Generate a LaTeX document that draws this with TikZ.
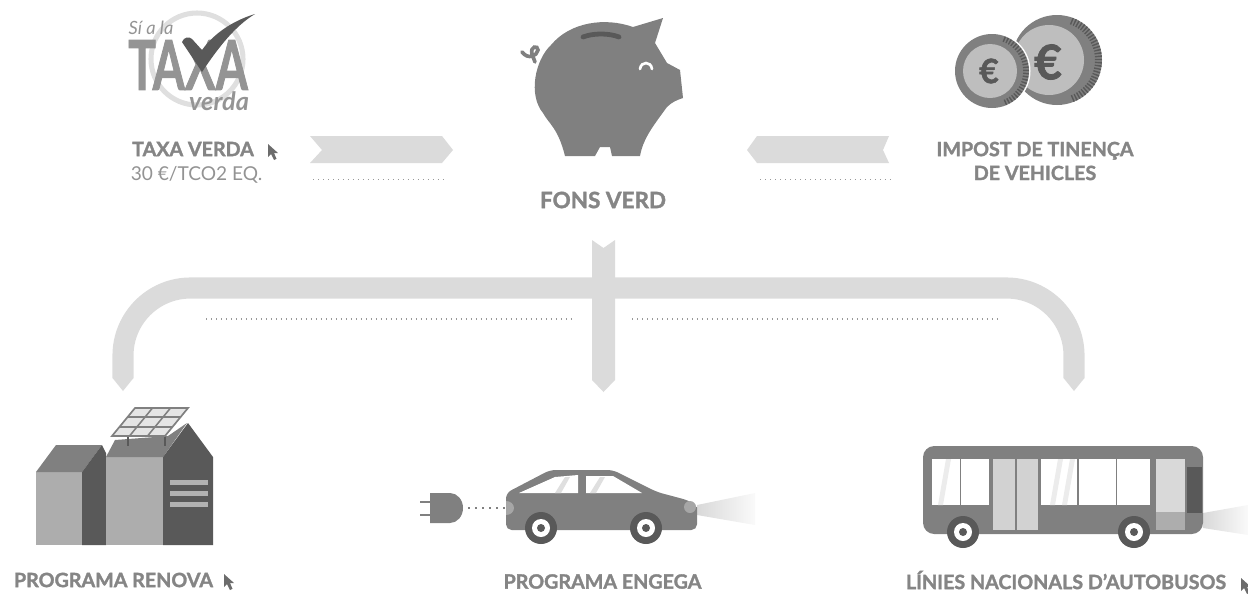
\documentclass[tikz,border=0pt]{standalone}
\usepackage{fontspec}
\setmainfont{Lato}[BoldFeatures={FakeBold=1.6}]
\usetikzlibrary{calc, positioning}
\definecolor{inkgray}{gray}{0.52}
\definecolor{bodygray}{gray}{0.5}
\definecolor{darkgray}{gray}{0.35}
\definecolor{midgray}{gray}{0.68}
\definecolor{bandgray}{gray}{0.86}
\definecolor{logogray}{gray}{0.58}
\tikzset{
	heading/.style={inner sep=0pt, text=inkgray, font=\fontsize{14}{16}\selectfont\bfseries},
	ribbon/.style={fill=bandgray, draw=none},
	dotline/.style={draw=gray!80, line width=.9pt, dash pattern=on 1pt off 2.555pt},
	band/.style={draw=bandgray, line width=15pt, rounded corners=48pt},
	cursor/.style={fill=gray!85!black, draw=none},
	beam/.style={draw=none, left color=gray!30, right color=gray!4},
}

\begin{document}
\begin{tikzpicture}[x=.025cm, y=-.025cm]
		\useasboundingbox (0,0) rectangle (1248,594);
		% logo
		\draw[gray!25, line width=3.6pt] (197,59) circle (46);
		\node[inner sep=0pt, text=logogray, font=\fontsize{13}{13}\selectfont\itshape] (sia) at (151,28) {Sí a la};
		\node[inner sep=0pt, text=logogray, font=\fontsize{49}{49}\selectfont\bfseries] (taxa) at (188,65) {\scalebox{.67}[1]{TAXA}};
		\node[inner sep=0pt, text=logogray, font=\fontsize{18}{18}\selectfont\bfseries\itshape] (verda) at (219,101) {verda};
		\fill[darkgray] (182,42) .. controls (184,37) and (189,36) .. (192,39) -- (202,50) .. controls (215,32) and (235,20) .. (255,14) .. controls (235,26) and (218,48) .. (202,72) -- cycle;
		% piggy bank
		\fill[bodygray] (663,18) -- (633,27) .. controls (605,17) and (570,22) .. (551,45) .. controls (535,60) and (528,95) .. (543,113) .. controls (549,124) and (558,128) .. (565,156) -- (595,156) -- (600,147) -- (610,147) -- (612,156) -- (640,156) .. controls (643,140) and (650,130) .. (667,107) .. controls (672,102) and (677,100) .. (683,98) -- (680,70) -- (667,63) -- (655,43) -- cycle;
		\draw[darkgray, line width=3.4pt, line cap=round] (583,37) .. controls (593,33) and (609,33) .. (619,37);
		\draw[white, line width=1.9pt, line cap=round] (640,69) .. controls (641,61) and (651,61) .. (652,69);
		\draw[bodygray, line width=2.6pt, line cap=round] (522,52) .. controls (528,60) and (537,56) .. (538,50) .. controls (538,45) and (530,46) .. (532,54) -- (535,62);
		% coins
		\fill[bodygray] (1057,60) circle (45);
		\draw[darkgray, line width=5pt, dash pattern=on 1pt off 1.2pt] (1057,60) ++(-70:41.5) arc (-70:70:41.5);
		\fill[midgray!80] (1049,60) circle (35);
		\node[inner sep=0pt, text=darkgray, font=\fontsize{34}{34}\selectfont\bfseries] (euroA) at (1048,62) {€};
		\fill[white] (992,71) circle (38.5);
		\fill[bodygray] (992,71) circle (37);
		\draw[darkgray, line width=4pt, dash pattern=on 1pt off 1.2pt] (992,71) ++(-70:34) arc (-70:70:34);
		\fill[midgray!80] (990,71) circle (27);
		\node[inner sep=0pt, text=darkgray, font=\fontsize{24}{24}\selectfont\bfseries] (euroB) at (989,71) {€};
		% top ribbons
		\path[ribbon] (310,136) -- (442,136) -- (453,150) -- (442,163) -- (310,163) -- (322,150) -- cycle;
		\path[ribbon] (889,136) -- (757,136) -- (747,150) -- (757,163) -- (889,163) -- (883,150) -- cycle;
		% lower ribbons
		\coordinate (armL) at (123,378);
		\coordinate (armR) at (1074,378);
		\coordinate (barL) at (123,288);
		\coordinate (barR) at (1074,288);
		\draw[band] (armL) -- (barL) -- (barR) -- (armR);
		\foreach \x in {112.5, 1063.5}
		{\path[ribbon] (\x,378) -- ++(21,0) -- ++(-10.5,13) -- cycle;}
		\path[ribbon] (592,240) -- (603.5,248) -- (615,240) -- (615,380) -- (603.5,392) -- (592,380) -- cycle;
		% dotted rules
		\foreach \a/\b/\y in {313/443/179.5, 760/890/179.5, 206/574/319, 632/998/319}
		{\draw[dotline] (\a,\y) -- (\b,\y);}
		% houses
		\fill[midgray] (36,472) rectangle (82,545);
		\fill[bodygray] (36,472) -- (56,445) -- (102,445) -- (82,472) -- cycle;
		\fill[darkgray] (82,472) -- (102,445) -- (106,453) -- (106,545) -- (82,545) -- cycle;
		\fill[midgray] (106,457) rectangle (163,545);
		\fill[bodygray] (106,457) -- (115,440) -- (168,436) -- (187,423) -- (163,457) -- cycle;
		\fill[darkgray] (163,457) -- (188,423) -- (213,457) -- (213,545) -- (163,545) -- cycle;
		\foreach \y in {482, 493, 504}
		{\fill[gray!60] (170,\y-2.5) rectangle (208,\y+2.5);}
		% solar panel
		\foreach \x in {128, 165}
		{\draw[darkgray, line width=1.4pt] (\x,436) -- (\x,446);}
		\draw[gray, fill=gray!20, line width=1.2pt] (135,408) -- (188,408) -- (165,436) -- (112,436) -- cycle;
		\foreach \t in {.33, .67}
		{\draw[gray, line width=1.1pt] ($(135,408)!\t!(112,436)$) -- ($(188,408)!\t!(165,436)$);
		 \draw[gray, line width=1.1pt] ($(135,408)!\t!(188,408)$) -- ($(112,436)!\t!(165,436)$);}
		% car
		\path[beam] (697,505) -- (755,493) -- (755,525) -- (697,515) -- cycle;
		\fill[bodygray, rounded corners=4pt] (506,530) -- (506,493) -- (550,470) -- (613,470) -- (657,492) -- (687,500) .. controls (693,503) and (697,508) .. (697,513) -- (697,530) -- cycle;
		\fill[white] (519,493) -- (555,477) -- (578,475) -- (578,493) -- cycle;
		\fill[white] (586,493) -- (586,476) -- (613,476) -- (642,493) -- cycle;
		\fill[gray!25] (555,493) -- (565,477) -- (570,477) -- (561,493) -- cycle;
		\fill[gray!25] (590,493) -- (600,477) -- (605,477) -- (596,493) -- cycle;
		\fill[gray!70] (690,507) circle (6);
		\fill[gray!70] (506,501) arc (-90:90:8 and 7) -- cycle;
		\foreach \x in {541, 646}
		{\fill[darkgray] (\x,528) circle (16);
		 \fill[white] (\x,528) circle (9);
		 \fill[darkgray] (\x,528) circle (4);}
		% plug
		\fill[bodygray] (430,493) -- (450,493) arc (-90:90:13 and 15) -- (430,523) -- cycle;
		\foreach \y in {502, 515}
		{\draw[gray, line width=1.8pt] (420,\y) -- (430,\y);}
		\draw[gray, line width=1.6pt, dash pattern=on 1.6pt off 3.4pt] (468,508) -- (505,508);
		% bus
		\path[beam] (1203,513) -- (1248,505) -- (1248,535) -- (1203,528) -- cycle;
		\fill[bodygray, rounded corners=8pt] (923,446) -- (1203,446) -- (1203,534) -- (923,534) -- cycle;
		\foreach \a/\b in {932/960, 961/989, 1041/1077, 1079/1116, 1117/1150}
		{\fill[white] (\a,459) rectangle (\b,505);}
		\foreach \a/\b in {993/1015, 1017/1038}
		{\fill[gray!35] (\a,459) rectangle (\b,530);}
		\foreach \a in {938, 1050, 1062}
		{\fill[gray!15] (\a,505) -- (\a+8,459) -- (\a+13,459) -- (\a+5,505) -- cycle;}
		\fill[gray!30] (1156,459) rectangle (1185,512);
		\fill[midgray] (1156,512) rectangle (1185,530);
		\fill[darkgray] (1187,467) rectangle (1202,513);
		\foreach \x in {963, 1134}
		{\fill[darkgray] (\x,532) circle (16);
		 \fill[white] (\x,532) circle (9);
		 \fill[darkgray] (\x,532) circle (4);}
		% labels
		\node[heading] (taxav) at (193,149) {TAXA VERDA};
		\node[inner sep=0pt, text=gray!85, font=\fontsize{13.6}{14}\selectfont] (rate) at (196.5,175) {30 €/TCO2 EQ.};
		\node[heading, font=\fontsize{16}{16}\selectfont\bfseries] (fons) at (603,200) {FONS VERD};
		\node[heading, align=center] (impost) at (1035,161) {IMPOST DE TINENÇA\\[1pt]DE VEHICLES};
		\node[heading] (renova) at (113.5,580) {PROGRAMA RENOVA};
		\node[heading] (engega) at (602.5,581.5) {PROGRAMA ENGEGA};
		\node[heading] (linies) at (1066,580) {LÍNIES NACIONALS D’AUTOBUSOS};
		% pointers
		\foreach \x/\y in {268/144, 224/574, 1241/578}
		{\path[cursor] (\x,\y) -- ++(0,13) -- ++(3,-3) -- ++(3,6) -- ++(2.5,-1.2) -- ++(-2.5,-5.8) -- ++(4,0) -- cycle;}
\end{tikzpicture}
\end{document}
